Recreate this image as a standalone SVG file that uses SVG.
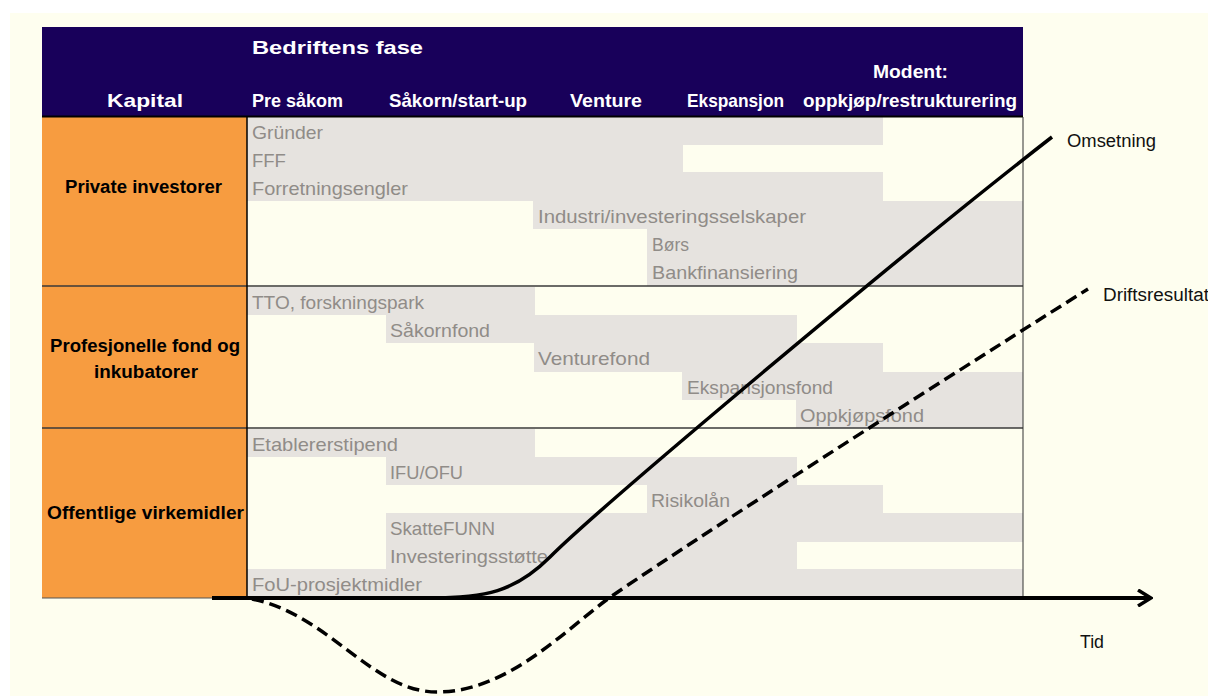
<svg xmlns="http://www.w3.org/2000/svg" width="1208" height="696" viewBox="0 0 1208 696">
<style>
.bar{fill:#E6E3DF}
.gt{font-family:"Liberation Sans",Arial,sans-serif;font-size:18.5px;fill:#908C88}
.ht{font-family:"Liberation Sans",Arial,sans-serif;font-weight:bold;font-size:18.5px;fill:#FFFFFF}
.lt{font-family:"Liberation Sans",Arial,sans-serif;font-weight:bold;font-size:18px;fill:#000000}
.ct{font-family:"Liberation Sans",Arial,sans-serif;font-size:18px;fill:#111111}
.div{stroke:#3A3A3A;stroke-width:1.5}
</style>
<defs>
<marker id="arr" markerWidth="16" markerHeight="18" refX="14" refY="9" orient="auto" markerUnits="userSpaceOnUse">
<path d="M 1 1 L 14 9 L 1 17" fill="none" stroke="#000" stroke-width="3.5"/>
</marker>
</defs>
<rect x="0" y="0" width="1208" height="696" fill="#FFFFFF"/>
<rect x="10" y="13" width="1198" height="683" fill="#FEFEEF"/>

<g id="header">
<rect x="42" y="27" width="981" height="89" fill="#18005A"/>
<text class="ht" x="252" y="54" font-size="22" textLength="171" lengthAdjust="spacingAndGlyphs">Bedriftens fase</text>
<text class="ht" x="107" y="107" font-size="22" textLength="76" lengthAdjust="spacingAndGlyphs">Kapital</text>
<text class="ht" x="252" y="107" textLength="91" lengthAdjust="spacingAndGlyphs">Pre såkom</text>
<text class="ht" x="389" y="107" textLength="138" lengthAdjust="spacingAndGlyphs">Såkorn/start-up</text>
<text class="ht" x="570" y="107" textLength="72" lengthAdjust="spacingAndGlyphs">Venture</text>
<text class="ht" x="687" y="107" textLength="97" lengthAdjust="spacingAndGlyphs">Ekspansjon</text>
<text class="ht" x="873" y="78" textLength="75" lengthAdjust="spacingAndGlyphs">Modent:</text>
<text class="ht" x="803" y="107" textLength="214" lengthAdjust="spacingAndGlyphs">oppkjøp/restrukturering</text>
</g>

<g id="row-private">
<rect x="42" y="117" width="205" height="169" fill="#F79C40"/>
<text class="lt" x="65" y="193" textLength="157" lengthAdjust="spacingAndGlyphs">Private investorer</text>
</g>
<g id="row-profesjonelle">
<rect x="42" y="286" width="205" height="142" fill="#F79C40"/>
<text class="lt" x="50" y="352" textLength="190" lengthAdjust="spacingAndGlyphs">Profesjonelle fond og</text>
<text class="lt" x="94" y="378" textLength="104" lengthAdjust="spacingAndGlyphs">inkubatorer</text>
</g>
<g id="row-offentlige">
<rect x="42" y="428" width="205" height="170" fill="#F79C40"/>
<text class="lt" x="47" y="519" textLength="197" lengthAdjust="spacingAndGlyphs">Offentlige virkemidler</text>
</g>

<g id="bars-private">
<rect class="bar" x="247" y="117" width="636" height="28"/>
<rect class="bar" x="247" y="145" width="436" height="27"/>
<rect class="bar" x="247" y="172" width="636" height="29"/>
<rect class="bar" x="533" y="201" width="490" height="28"/>
<rect class="bar" x="647" y="229" width="376" height="57"/>
</g>
<g id="bars-profesjonelle">
<rect class="bar" x="247" y="287" width="288" height="28"/>
<rect class="bar" x="386" y="315" width="411" height="28"/>
<rect class="bar" x="534" y="343" width="349" height="29"/>
<rect class="bar" x="682" y="372" width="341" height="28"/>
<rect class="bar" x="796" y="400" width="227" height="28"/>
</g>
<g id="bars-offentlige">
<rect class="bar" x="247" y="429" width="288" height="28"/>
<rect class="bar" x="386" y="457" width="411" height="28"/>
<rect class="bar" x="647" y="485" width="236" height="28"/>
<rect class="bar" x="386" y="513" width="637" height="29"/>
<rect class="bar" x="386" y="542" width="411" height="27"/>
<rect class="bar" x="247" y="569" width="776" height="29"/>
</g>

<g id="labels-private">
<text class="gt" x="252" y="139" textLength="71" lengthAdjust="spacingAndGlyphs">Gründer</text>
<text class="gt" x="252" y="167">FFF</text>
<text class="gt" x="252" y="195" textLength="156" lengthAdjust="spacingAndGlyphs">Forretningsengler</text>
<text class="gt" x="538" y="223" textLength="268" lengthAdjust="spacingAndGlyphs">Industri/investeringsselskaper</text>
<text class="gt" x="652" y="251" textLength="37" lengthAdjust="spacingAndGlyphs">Børs</text>
<text class="gt" x="652" y="279" textLength="146" lengthAdjust="spacingAndGlyphs">Bankfinansiering</text>
</g>
<g id="labels-profesjonelle">
<text class="gt" x="252" y="309" textLength="172" lengthAdjust="spacingAndGlyphs">TTO, forskningspark</text>
<text class="gt" x="390" y="337" textLength="100" lengthAdjust="spacingAndGlyphs">Såkornfond</text>
<text class="gt" x="538" y="365" textLength="112" lengthAdjust="spacingAndGlyphs">Venturefond</text>
<text class="gt" x="687" y="394" textLength="146" lengthAdjust="spacingAndGlyphs">Ekspansjonsfond</text>
<text class="gt" x="800" y="422" textLength="124" lengthAdjust="spacingAndGlyphs">Oppkjøpsfond</text>
</g>
<g id="labels-offentlige">
<text class="gt" x="252" y="451" textLength="146" lengthAdjust="spacingAndGlyphs">Etablererstipend</text>
<text class="gt" x="390" y="479" textLength="73" lengthAdjust="spacingAndGlyphs">IFU/OFU</text>
<text class="gt" x="651" y="507" textLength="79" lengthAdjust="spacingAndGlyphs">Risikolån</text>
<text class="gt" x="390" y="535" textLength="105" lengthAdjust="spacingAndGlyphs">SkatteFUNN</text>
<text class="gt" x="390" y="563" textLength="158" lengthAdjust="spacingAndGlyphs">Investeringsstøtte</text>
<text class="gt" x="252" y="591" textLength="170" lengthAdjust="spacingAndGlyphs">FoU-prosjektmidler</text>
</g>

<g id="grid">
<line x1="42" y1="116.5" x2="1023" y2="116.5" stroke="#000" stroke-width="2"/>
<line class="div" x1="42" y1="286" x2="1023" y2="286"/>
<line class="div" x1="42" y1="428" x2="1023" y2="428"/>
<line x1="42" y1="598" x2="214" y2="598" stroke="#555" stroke-width="1.2"/>
<line x1="247" y1="117" x2="247" y2="598" stroke="#000" stroke-width="1.5"/>
<line x1="1023" y1="117" x2="1023" y2="598" stroke="#333" stroke-width="1"/>
</g>

<g id="connectors" fill="none" stroke="#000" stroke-width="3.5">
<line id="axis" x1="212" y1="598" x2="1151" y2="598" stroke-width="4" marker-end="url(#arr)"/>
<path id="omsetning" d="M 430 598 C 485 598, 515 592, 550 557 C 600 507, 900 255, 1052 137"/>
<path id="driftsresultat" d="M 252 599 C 330 615, 372 692, 437 692 C 505 692, 560 635, 605 601 C 640 575, 900 407, 1088 289" stroke-dasharray="12 6"/>
</g>

<g id="curve-labels">
<text class="ct" x="1067" y="147" textLength="89" lengthAdjust="spacingAndGlyphs">Omsetning</text>
<text class="ct" x="1103" y="301" textLength="106" lengthAdjust="spacingAndGlyphs">Driftsresultat</text>
<text class="ct" x="1080" y="648" textLength="24" lengthAdjust="spacingAndGlyphs">Tid</text>
</g>
</svg>
